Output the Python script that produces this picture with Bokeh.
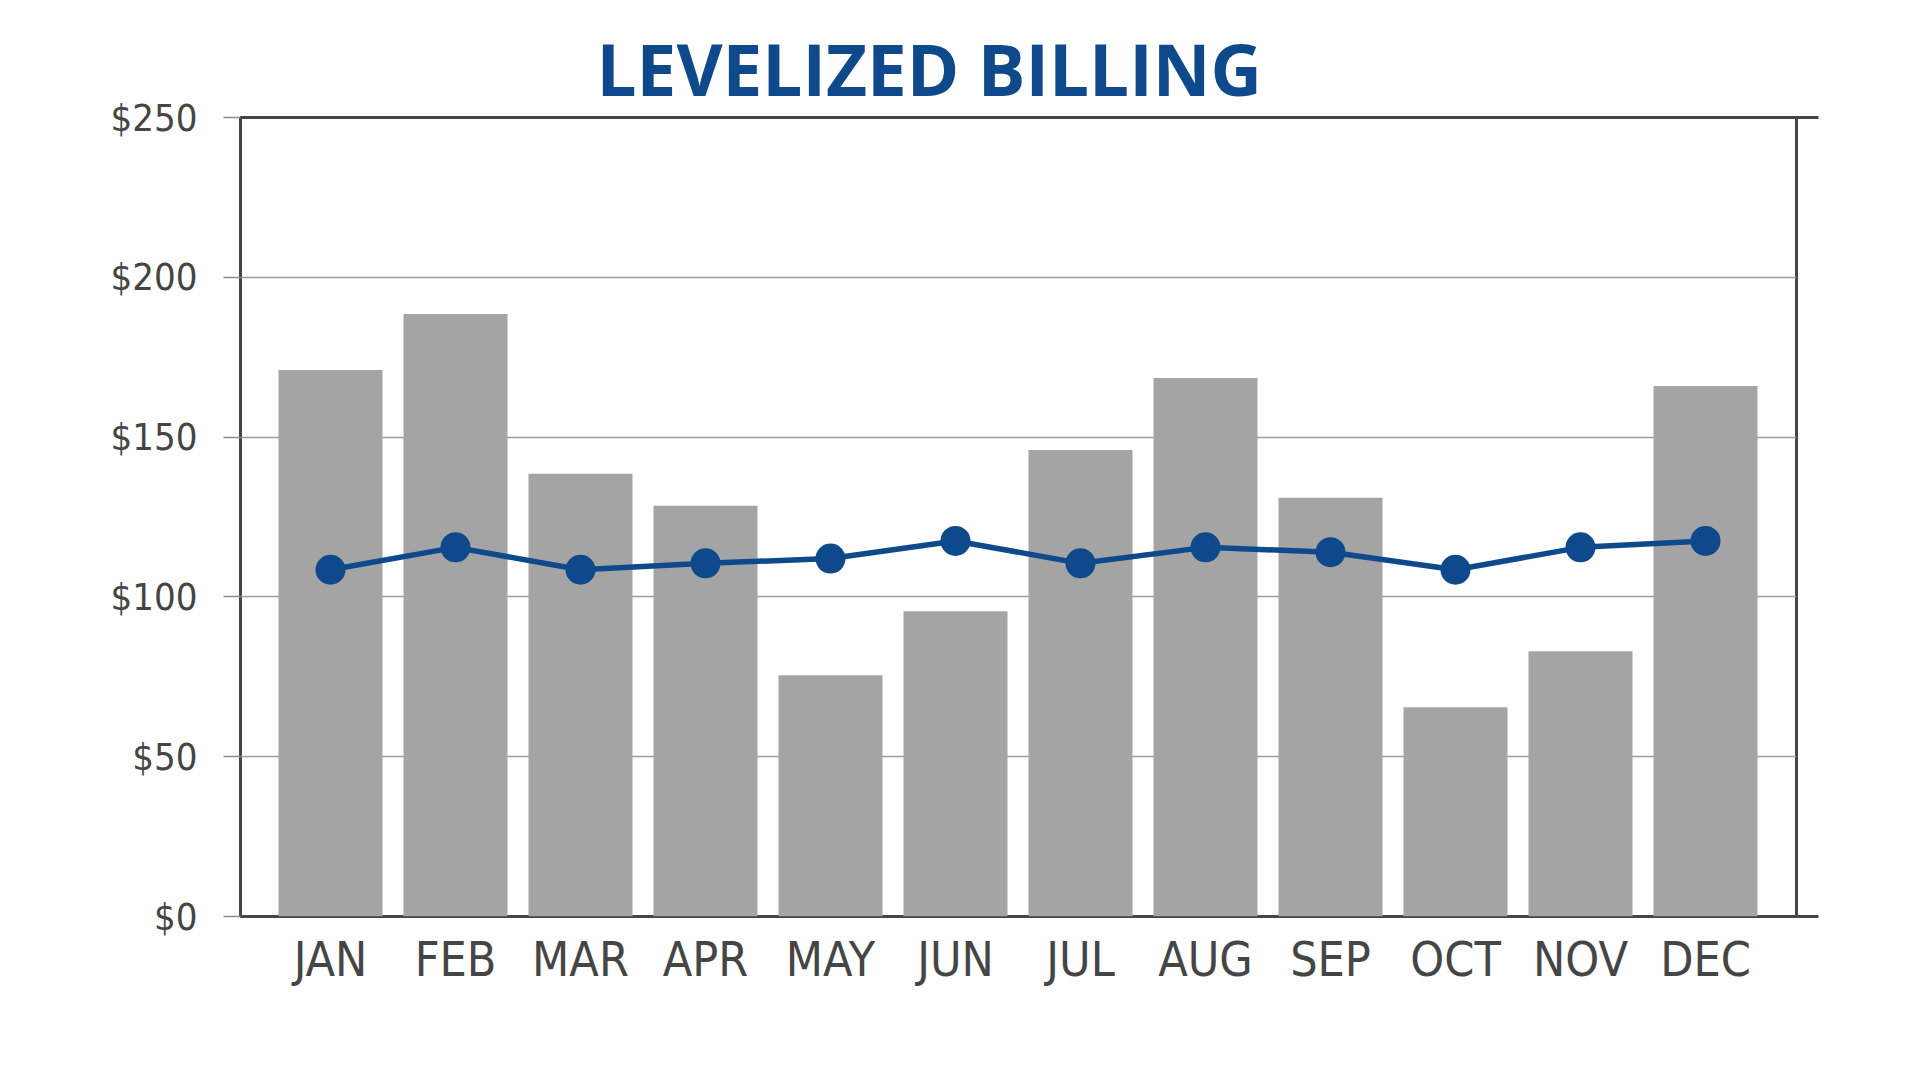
from bokeh.plotting import figure
from bokeh.models import Range1d, FixedTicker, LinearAxis, NumeralTickFormatter
from bokeh.embed import file_html
from bokeh.resources import INLINE

# ---- data ----
months = ["JAN", "FEB", "MAR", "APR", "MAY", "JUN", "JUL", "AUG", "SEP", "OCT", "NOV", "DEC"]
actual_bill = [171, 188.5, 138.5, 128.5, 75.5, 95.5, 146, 168.5, 131, 65.5, 83, 166]
levelized_bill = [108.5, 115.5, 108.5, 110.5, 112, 117.5, 110.5, 115.5, 114, 108.5, 115.5, 117.5]
y_ticks = [0, 50, 100, 150, 200, 250]
title_text = "LEVELIZED BILLING"

BLUE = "#0e4a8b"
GRAY_BAR = "#a4a4a4"
DARK = "#454545"
LABEL_FONT = "'DejaVu Sans Condensed', 'DejaVu Sans', sans-serif"

xs = list(range(len(months)))

W, H = 1904, 1064
p = figure(
    width=W, height=H,
    x_range=Range1d(-0.72, 11.728),
    y_range=Range1d(0, 250),
    output_backend="svg",
    toolbar_location=None,
    min_border_left=240, min_border_right=108,
    min_border_top=117, min_border_bottom=148,
)
p.background_fill_color = "white"
p.border_fill_color = "white"
p.outline_line_color = DARK
p.outline_line_width = 3

# title
p.title.text = title_text
p.title.text_font = "Open Sans"
p.title.text_font_style = "bold"
p.title.text_font_size = "71px"
p.title.text_color = BLUE
p.title.align = "left"
p.title.offset = 356
p.title.standoff = 1

# bars
p.vbar(x=xs, top=actual_bill, bottom=0, width=0.832, fill_color=GRAY_BAR, line_color=None)

# line + markers
p.line(xs, levelized_bill, line_color=BLUE, line_width=5.5)
p.scatter(xs, levelized_bill, size=30, fill_color=BLUE, line_color=BLUE, line_width=0)

# grid
p.xgrid.grid_line_color = None
p.ygrid.ticker = FixedTicker(ticks=y_ticks)
p.ygrid.grid_line_color = "#9c9c9c"
p.ygrid.grid_line_width = 1.5

# y axis (left)
ya = p.yaxis[0]
ya.ticker = FixedTicker(ticks=y_ticks)
ya.formatter = NumeralTickFormatter(format="$0")
ya.axis_line_color = None
ya.major_tick_in = 0
ya.major_tick_out = 17
ya.major_tick_line_color = "#8c8c8c"
ya.major_tick_line_width = 1.5
ya.minor_tick_line_color = None
ya.major_label_standoff = 26
ya.major_label_text_font = LABEL_FONT
ya.major_label_text_font_size = "38px"
ya.major_label_text_color = DARK

# x axis (bottom)
xa = p.xaxis[0]
xa.ticker = FixedTicker(ticks=xs)
xa.major_label_overrides = {i: m for i, m in zip(xs, months)}
xa.axis_line_color = None
xa.major_tick_line_color = None
xa.minor_tick_line_color = None
xa.major_tick_in = 0
xa.major_tick_out = 0
xa.major_label_standoff = 14
xa.major_label_text_font = LABEL_FONT
xa.major_label_text_font_size = "48px"
xa.major_label_text_color = DARK

# right axis: only the end ticks extending the top/bottom lines
ra = LinearAxis(ticker=FixedTicker(ticks=[0, 250]))
ra.axis_line_color = None
ra.major_tick_in = 0
ra.major_tick_out = 22
ra.major_tick_line_color = DARK
ra.major_tick_line_width = 3
ra.minor_tick_line_color = None
ra.major_label_text_font_size = "0px"
ra.major_label_text_color = None
p.add_layout(ra, "right")

open("out.html", "w").write(file_html(p, INLINE))
